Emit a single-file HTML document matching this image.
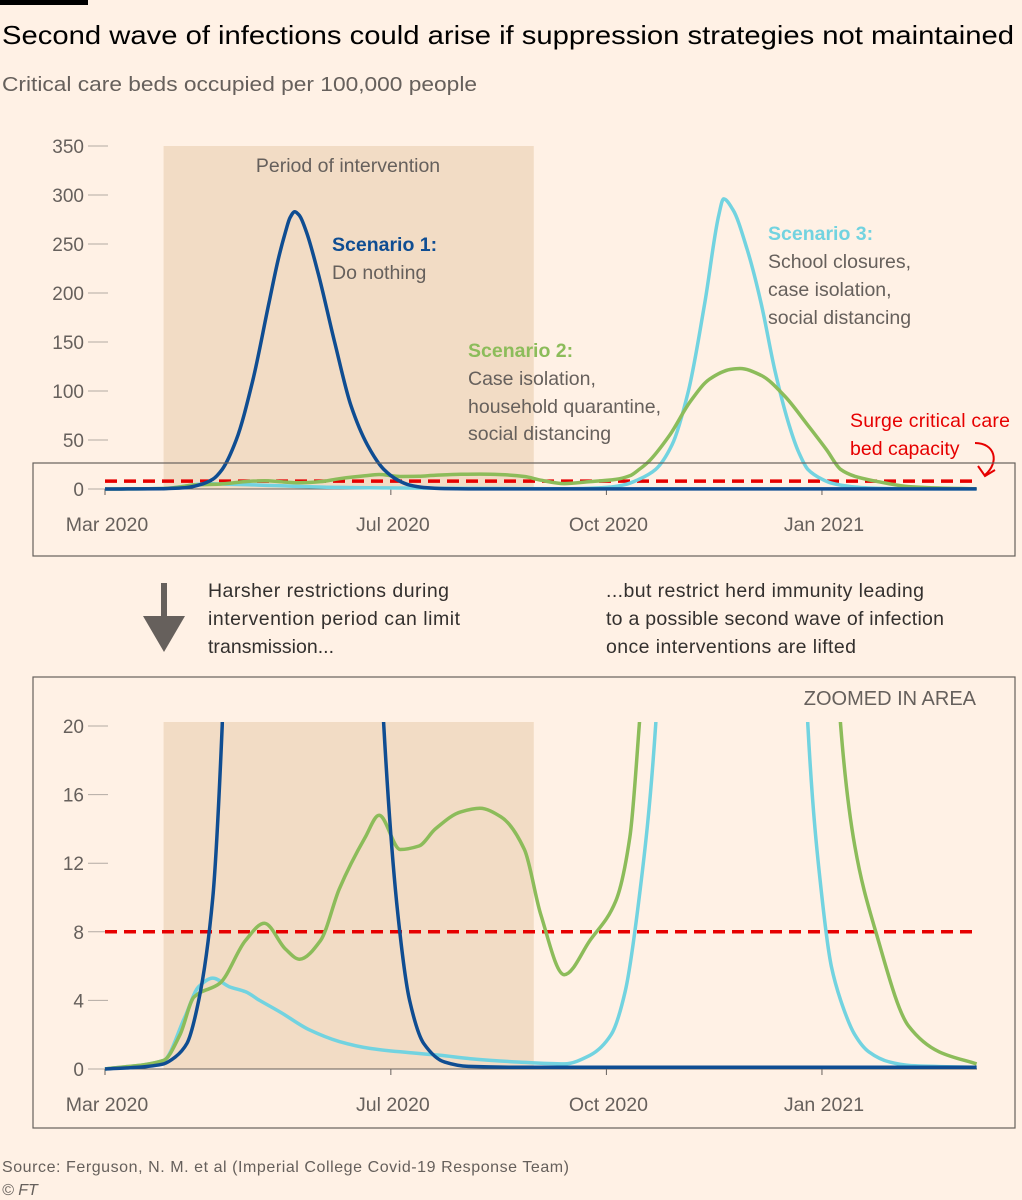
<!DOCTYPE html>
<html><head><meta charset="utf-8"><style>
body{margin:0;background:#fff1e5;}
svg{display:block;font-family:"Liberation Sans",sans-serif;}
</style></head><body>
<svg id="chart" width="1022" height="1200" viewBox="0 0 1022 1200">
<rect x="0" y="0" width="1022" height="1200" fill="#fff1e5"/>
<rect x="0" y="0" width="88" height="5" fill="#000"/>
<text x="2" y="44" font-size="26" fill="#000" textLength="1012" lengthAdjust="spacingAndGlyphs">Second wave of infections could arise if suppression strategies not maintained</text>
<text x="2" y="91" font-size="20" fill="#66605c" textLength="475" lengthAdjust="spacingAndGlyphs">Critical care beds occupied per 100,000 people</text>
<defs>
<clipPath id="clipTop"><rect x="100" y="140" width="880" height="360"/></clipPath>
<clipPath id="clipBot"><rect x="100" y="722" width="880" height="360"/></clipPath>
</defs>
<g id="top"></g>
<rect x="33" y="463" width="982" height="93" fill="none" stroke="#66605c" stroke-width="1.2"/>
<g>
<rect x="161" y="583" width="6" height="35" fill="#66605c"/>
<polygon points="143,616 185,616 164,652" fill="#66605c"/>
</g>
<g font-size="19.5" fill="#33302e">
<text x="208" y="597" textLength="241">Harsher restrictions during</text>
<text x="208" y="625" textLength="252">intervention period can limit</text>
<text x="208" y="653" textLength="126">transmission...</text>
<text x="606" y="597" textLength="318">...but restrict herd immunity leading</text>
<text x="606" y="625" textLength="338">to a possible second wave of infection</text>
<text x="606" y="653" textLength="250">once interventions are lifted</text>
</g>
<rect x="33" y="677" width="982" height="451" fill="none" stroke="#66605c" stroke-width="1.2"/>
<text x="976" y="705" font-size="20" text-anchor="end" fill="#66605c">ZOOMED IN AREA</text>
<g id="bot"></g>
<text x="2" y="1172" font-size="16" fill="#66605c" textLength="567">Source: Ferguson, N. M. et al (Imperial College Covid-19 Response Team)</text>
<text x="2" y="1195" font-size="16" font-style="italic" fill="#66605c">© FT</text>
</svg>
<script>
const xTickLabels = ["Mar 2020","Jul 2020","Oct 2020","Jan 2021"];
const xTickDays = [0,122,214,306];
const topYTicks = [0,50,100,150,200,250,300,350];
const botYTicks = [0,4,8,12,16,20];
const interventionDays = [25,183];
const capacity = 8;
const s1Days = [0,14,25,30,35,40,46,50,56,63,70,74,77,79,81,83,86,91,98,105,112,119,125,130,136,145,155,180,372];
const s1Vals = [0,0.1,0.3,0.7,1.5,4,10,20,50,110,190,235,262,277,283,279,262,220,150,85,45,20,9,4,1.5,0.4,0.15,0.1,0.1];
const s2Days = [0,25,32,38,49,60,68,77,83,92,100,111,117,126,134,141,152,160,169,179,186,196,207,218,224,228,232,241,250,258,267,271,280,290,300,308,314,320,329,343,356,372];
const s2Vals = [0,0.5,2,4.2,5,7.5,8.5,7,6.4,7.5,10.5,13.5,14.8,12.8,13,14,15,15.2,14.7,12.8,9,5.5,7.5,9.8,13.5,20,28,55,90,112,122,123,116,95,65,40,20,13,8,2.5,1,0.3];
const s3Days = [0,25,34,40,46,53,60,66,75,87,100,113,126,143,156,177,196,207,216,222,228,235,242,249,256,262,264,268,274,280,286,292,296,300,306,310,314,320,326,335,344,372];
const s3Vals = [0,0.5,3,4.8,5.3,4.8,4.5,4,3.3,2.3,1.6,1.2,1,0.8,0.6,0.4,0.3,0.8,2,4.5,10,20,45,100,190,280,296,285,245,190,120,65,38,20,10,6,4,2,1,0.4,0.2,0.1];

const NS="http://www.w3.org/2000/svg";
const x = d => 105 + d*2.343;
const yTop = v => 489 - v*0.98;
const yBot = v => 1069 - v*17.15;
function mk(tag, attrs, parent){const e=document.createElementNS(NS,tag);for(const k in attrs)e.setAttribute(k,attrs[k]);parent.appendChild(e);return e;}
function line(days, vals, y){
  const X=days.map(x), Y=vals.map(y), n=X.length;
  const dx=[],m=[];
  for(let i=0;i<n-1;i++){dx.push(X[i+1]-X[i]);m.push((Y[i+1]-Y[i])/dx[i]);}
  const t=[m[0]];
  for(let i=1;i<n-1;i++){ if(m[i-1]*m[i]<=0) t.push(0); else { const w1=2*dx[i]+dx[i-1], w2=dx[i]+2*dx[i-1]; t.push((w1+w2)/(w1/m[i-1]+w2/m[i])); } }
  t.push(m[n-2]);
  let d='M'+X[0].toFixed(1)+','+Y[0].toFixed(1);
  for(let i=0;i<n-1;i++){const h=dx[i]/3;
    d+=' C'+(X[i]+h).toFixed(1)+','+(Y[i]+t[i]*h).toFixed(1)+' '+(X[i+1]-h).toFixed(1)+','+(Y[i+1]-t[i+1]*h).toFixed(1)+' '+X[i+1].toFixed(1)+','+Y[i+1].toFixed(1);}
  return d;
}

function build(g, y, ticks, top, clipId){
  const sh = mk('rect',{x:x(interventionDays[0]),y:top?146:722,width:x(interventionDays[1])-x(interventionDays[0]),height:top?343:347,fill:'#f2dcc5'},g);
  
  
  ticks.forEach(t=>{
    const tl = mk('line',{x1:88,x2:108,y1:y(t),y2:y(t),stroke:'#b3aaa3','stroke-width':1},g);
    
    
    const tx = mk('text',{x:84,y:y(t)+7,'font-size':19,'text-anchor':'end',fill:'#66605c'},g);
    tx.textContent = t;
    
    
  });
  const base = top?489:1069;
  const ax = mk('line',{x1:105,x2:977,y1:base,y2:base,stroke:'#66605c','stroke-width':1},g);
  
  
  xTickLabels.forEach((l,i)=>{
    const tk = mk('line',{x1:x(xTickDays[i]),x2:x(xTickDays[i]),y1:base,y2:base+6,stroke:'#66605c'},g);
    
    
    const tx = mk('text',{x:x(xTickDays[i])+2,y:base+42,'font-size':19.5,'text-anchor':'middle',fill:'#66605c'},g);
    tx.textContent = l;
    
    
  });
  const cg = mk('g',{'clip-path':'url(#'+clipId+')'},g);
  const cap = mk('line',{x1:105,x2:977,y1:y(capacity),y2:y(capacity),stroke:'#e60000','stroke-width':3.5,'stroke-dasharray':'12,7'},cg);
  
  
  const p3 = mk('path',{d:line(s3Days,s3Vals,y),fill:'none',stroke:'#72d3e0','stroke-width':3.5,'stroke-linejoin':'round'},cg);
  
  
  const p2 = mk('path',{d:line(s2Days,s2Vals,y),fill:'none',stroke:'#8cbc5a','stroke-width':3.5,'stroke-linejoin':'round'},cg);
  
  
  const p1 = mk('path',{d:line(s1Days,s1Vals,y),fill:'none',stroke:'#0f4d92','stroke-width':3.5,'stroke-linejoin':'round'},cg);
  
  
}
const gTop=document.getElementById('top'), gBot=document.getElementById('bot');
build(gTop,yTop,topYTicks,true,'clipTop');
build(gBot,yBot,botYTicks,false,'clipBot');
gTop.insertAdjacentHTML('beforeend',`
<text x="348" y="172" font-size="19.5" text-anchor="middle" fill="#66605c">Period of intervention</text>
<text x="332" y="251" font-size="19.5" font-weight="bold" fill="#0f4d92">Scenario 1:</text>
<text x="332" y="279" font-size="19.5" fill="#66605c">Do nothing</text>
<text x="468" y="357" font-size="19.5" font-weight="bold" fill="#8cbc5a">Scenario 2:</text>
<text font-size="19.5" fill="#66605c"><tspan x="468" y="385">Case isolation,</tspan><tspan x="468" y="413">household quarantine,</tspan><tspan x="468" y="440">social distancing</tspan></text>
<text x="768" y="240" font-size="19.5" font-weight="bold" fill="#72d3e0">Scenario 3:</text>
<text font-size="19.5" fill="#66605c"><tspan x="768" y="268">School closures,</tspan><tspan x="768" y="296">case isolation,</tspan><tspan x="768" y="324">social distancing</tspan></text>
<text font-size="19.5" fill="#e60000"><tspan x="850" y="427" textLength="160">Surge critical care</tspan><tspan x="850" y="455">bed capacity</tspan></text>
<path d="M975,443 C995,443 1000,462 985,475 M978,466 L985,476 L995,470" fill="none" stroke="#e60000" stroke-width="2"/>`);
</script>
</body></html>
